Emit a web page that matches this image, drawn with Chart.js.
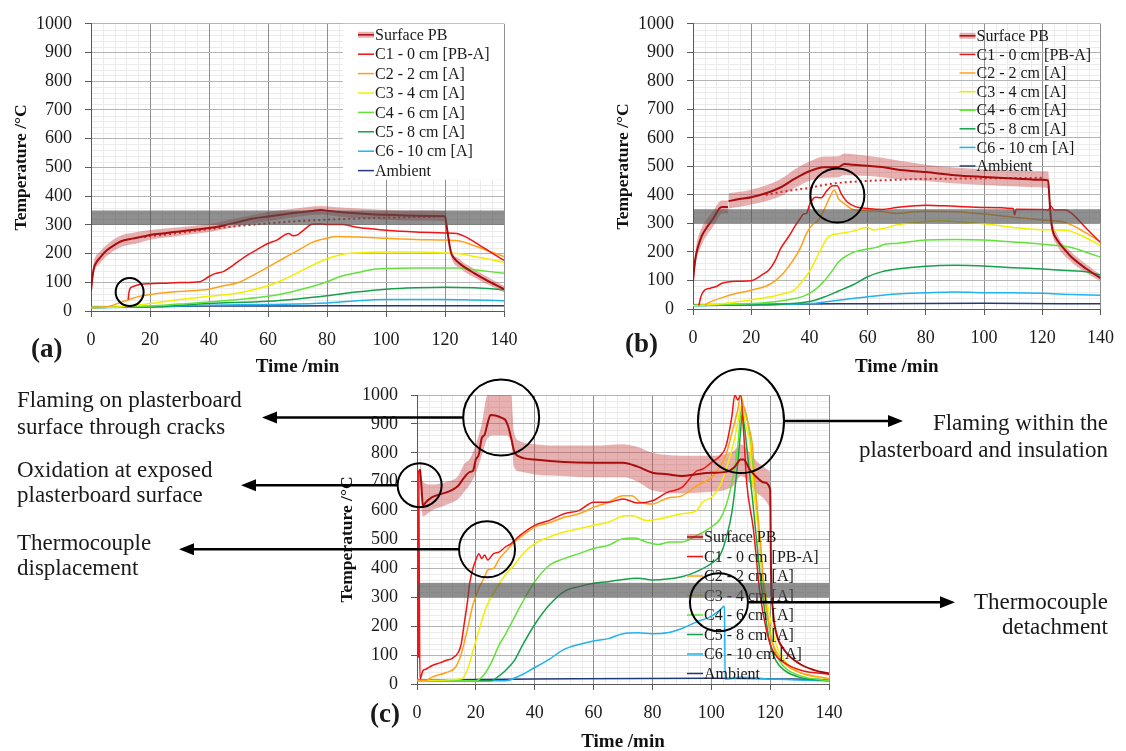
<!DOCTYPE html>
<html>
<head>
<meta charset="utf-8">
<script src="https://cdn.jsdelivr.net/npm/chart.js@4.4.1/dist/chart.umd.min.js"></script>
<style>
  body { margin: 0; background: #fff; width: 1126px; height: 751px; overflow: hidden; position: relative;
         font-family: "Liberation Serif", "Times New Roman", serif; color: #1a1a1a; }
  canvas { position: absolute; }
  .note { position: absolute; font-size: 23px; white-space: nowrap; }
  .tag { position: absolute; font-size: 27px; line-height: 30px; font-weight: bold; }
</style>
</head>
<body>
<canvas id="chartA" width="563" height="380" style="left:0;top:0"></canvas>
<canvas id="chartB" width="563" height="380" style="left:563px;top:0"></canvas>
<canvas id="chartC" width="1126" height="395" style="left:0;top:360px"></canvas>

<div class="tag" style="left:31px;top:333px">(a)</div>
<div class="tag" style="left:625px;top:328px">(b)</div>
<div class="tag" style="left:370px;top:698px">(c)</div>

<div class="note" style="left:17px;top:386px;line-height:27px">Flaming on plasterboard<br>surface through cracks</div>
<div class="note" style="left:17px;top:457px;line-height:25px">Oxidation at exposed<br>plasterboard surface</div>
<div class="note" style="left:17px;top:530px;line-height:25px">Thermocouple<br>displacement</div>
<div class="note" style="right:18px;top:409px;line-height:27px;text-align:right">Flaming within the<br>plasterboard and insulation</div>
<div class="note" style="right:18px;top:589px;line-height:25px;text-align:right">Thermocouple<br>detachment</div>

<script>
// ---- data: [time (min), temperature (°C)] ----
const seriesNames = ['Surface PB', 'C1 - 0 cm [PB-A]', 'C2 - 2 cm [A]', 'C3 - 4 cm [A]',
                     'C4 - 6 cm [A]', 'C5 - 8 cm [A]', 'C6 - 10 cm [A]', 'Ambient'];
const xTickLabels = [0, 20, 40, 60, 80, 100, 120, 140];
const yTickLabels = [0, 100, 200, 300, 400, 500, 600, 700, 800, 900, 1000];
const bandLow = 300, bandHigh = 350;

// (a)
const aSurf = [[0,70],[0.5,120],[1,150],[2,172],[3,185],[5,208],[8,230],[10,242],[14,252],[18,260],[20,265],[25,271],[30,277],[35,283],[40,289],[45,298],[50,310],[55,322],[60,329],[65,336],[70,343],[75,348],[78,352],[80,349],[85,344],[90,340],[95,337],[100,335],[110,332],[120,330],[120.5,300],[121,265],[122,205],[123,185],[125,165],[130,131],[135,102],[140,76]];
const aHi = [[0,85],[1,170],[3,205],[5,228],[10,262],[15,274],[20,282],[30,292],[40,303],[50,325],[60,345],[70,358],[78,366],[85,360],[100,352],[110,350],[120,348],[121,282],[122,220],[125,180],[130,145],[135,115],[140,88]];
const aLo = [[0,55],[1,130],[3,165],[5,188],[10,222],[15,234],[20,248],[30,262],[40,275],[50,295],[60,313],[70,328],[78,336],[85,328],[100,318],[110,315],[120,312],[121,250],[122,190],[125,150],[130,117],[135,90],[140,65]];
const aTrend = [[18,258],[30,272],[40,285],[50,296],[60,305],[70,313],[80,318],[90,322],[100,325],[110,327],[118,328]];
const aC1 = [[12.6,40],[12.8,60],[13.2,78],[14,84],[15,88],[17,93],[20,95],[25,97],[30,99],[37,102],[40,120],[42,130],[45,138],[48,158],[52,188],[56,212],[60,235],[63,247],[67,270],[68.5,262],[70,265],[72,281],[75,302],[78,303],[80,301],[85,301],[90,292],[95,286],[100,281],[110,275],[120,272],[124,270],[127,258],[130,240],[135,208],[140,176]];
const aC2 = [[0,12],[5,14],[8,22],[10,30],[13,40],[16,50],[20,57],[30,68],[40,76],[45,88],[50,99],[55,125],[60,153],[65,182],[70,210],[75,239],[80,253],[83,259],[90,258],[100,253],[110,249],[120,247],[125,244],[130,227],[135,208],[140,190]];
const aC3 = [[0,12],[10,15],[15,20],[20,26],[30,40],[40,51],[50,63],[55,74],[60,88],[65,108],[70,133],[75,159],[80,182],[85,197],[90,202],[100,205],[110,205],[120,202],[125,199],[130,190],[140,170]];
const aC4 = [[0,12],[20,17],[30,24],[40,31],[50,40],[60,51],[65,60],[70,72],[75,85],[80,102],[85,122],[90,133],[95,144],[100,148],[110,150],[120,150],[125,150],[130,144],[140,131]];
const aC5 = [[0,12],[20,15],[40,26],[60,34],[70,42],[80,53],[90,66],[100,76],[110,81],[120,83],[130,81],[140,74]];
const aC6 = [[0,11],[20,14],[40,20],[60,23],[80,28],[90,36],[100,40],[120,40],[130,38],[140,36]];
const aAmb = [[0,13],[20,15],[40,17],[60,17],[80,18],[100,18],[120,18],[140,18]];

// (b)
const bSurf = [[0,97],[0.5,150],[1,188],[2,227],[3,256],[5,290],[7,318],[9,352],[10,358],[12,358],[12.1,null],[12.2,378],[15,384],[20,392],[25,406],[30,426],[35,457],[40,483],[45,497],[50,498],[52,508],[55,506],[60,502],[65,498],[70,489],[80,480],[90,469],[100,463],[110,458],[120,453],[122,451],[122.5,380],[123,312],[123.5,278],[125,244],[128,205],[130,182],[135,142],[140,108]];
const bHi = [[0,115],[1,215],[3,285],[5,318],[7,345],[9,375],[10,380],[12,380],[12.1,null],[12.2,406],[20,418],[30,455],[35,490],[40,517],[45,535],[50,536],[52,545],[55,543],[60,537],[70,522],[80,506],[90,496],[100,489],[110,486],[120,483],[122,482],[123,340],[125,265],[130,200],[135,158],[140,120]];
const bLo = [[0,80],[1,160],[3,225],[5,262],[7,290],[9,325],[10,335],[12,335],[12.1,null],[12.2,352],[20,366],[30,395],[35,425],[40,450],[45,460],[50,462],[52,470],[55,468],[60,466],[70,456],[80,449],[90,440],[100,435],[110,430],[120,426],[122,422],[123,290],[125,225],[130,165],[135,128],[140,96]];
const bTrend = [[25,400],[30,410],[35,418],[40,425],[45,435],[50,442],[60,449],[70,453],[80,456],[90,457],[100,458],[110,459],[120,460]];
const bC1 = [[2,12],[2.5,35],[3,51],[4,66],[6,73],[8,79],[10,90],[15,97],[20,99],[22,108],[24,122],[26,136],[28,165],[30,210],[33,256],[35,290],[37,320],[38,333],[39,335],[40,364],[42,392],[44,390],[46,415],[48,432],[49.5,432],[51,403],[53,375],[56,358],[60,352],[65,349],[70,356],[80,364],[90,360],[100,356],[110,352],[110.5,330],[111,350],[120,349],[122,347],[123,360],[124,347],[128,347],[130,336],[135,284],[140,233]];
const bC2 = [[4,14],[6,25],[10,40],[15,55],[20,66],[25,80],[28,97],[31,125],[34,165],[37,216],[39,265],[41,295],[43,310],[45,347],[47,392],[48.5,417],[50,386],[52,369],[55,349],[60,345],[65,342],[70,335],[75,340],[80,343],[90,341],[100,333],[110,322],[120,312],[128,303],[135,267],[140,235]];
const bC3 = [[0,12],[10,18],[20,32],[25,40],[30,51],[35,68],[37,91],[40,131],[42,170],[44,210],[46,247],[48,261],[50,264],[55,273],[60,287],[62,277],[65,281],[70,295],[80,307],[85,309],[90,307],[100,299],[110,286],[120,278],[128,276],[135,250],[140,222]];
const bC4 = [[0,12],[20,19],[30,28],[38,45],[42,68],[45,97],[48,136],[50,165],[53,188],[56,202],[60,210],[63,216],[66,227],[70,230],[80,242],[90,244],[100,242],[110,235],[120,227],[130,216],[135,199],[140,182]];
const bC5 = [[0,12],[30,17],[40,26],[45,42],[50,63],[55,85],[60,113],[65,131],[70,140],[80,150],[90,153],[100,151],[110,145],[120,140],[130,134],[135,131],[140,119]];
const bC6 = [[0,12],[40,19],[50,31],[60,43],[70,53],[80,57],[90,60],[100,57],[110,57],[120,55],[130,51],[140,48]];
const bAmb = [[0,15],[50,18],[100,20],[140,18]];

// (c)
const cSurf = [[1,743],[1.5,686],[2,617],[3,629],[5,646],[8,657],[10,663],[12,672],[14,686],[16,714],[18,734],[19,737],[20,777],[21,794],[22,851],[23,863],[24,903],[25,931],[27,928],[29,920],[30,914],[31,891],[32,851],[33,806],[35,786],[40,777],[50,768],[60,766],[70,766],[75,752],[80,731],[85,726],[90,720],[95,726],[100,731],[105,734],[108,752],[110,777],[111,777],[113,743],[115,720],[118,697],[120,674],[120.3,400],[121,250],[122,180],[125,115],[130,70],[135,48],[140,36]];
const cHi = [[1,790],[2,700],[5,690],[10,700],[14,720],[16,760],[18,780],[20,830],[22,900],[24,1000],[26,1000],[30,1000],[32,1000],[33,870],[35,840],[40,830],[50,825],[60,825],[70,830],[75,820],[80,800],[90,790],[100,790],[105,795],[108,810],[110,830],[112,815],[115,775],[118,750],[120,735]];
const cLo = [[1,690],[2,580],[5,600],[10,620],[14,640],[16,665],[18,690],[20,730],[22,790],[24,850],[26,860],[30,860],[32,840],[33,750],[35,735],[40,725],[50,720],[60,715],[70,715],[75,700],[80,670],[90,660],[100,665],[105,672],[108,690],[110,720],[112,710],[115,665],[118,640],[120,610]];
const cC1 = [[0.5,91],[0.6,740],[0.8,300],[1,17],[2,46],[3,51],[5,63],[8,74],[10,82],[12,89],[14,109],[15,137],[16,206],[17,274],[18,354],[19,400],[20,429],[21,451],[22,434],[23,446],[24,429],[26,451],[28,457],[30,474],[32,486],[35,514],[40,549],[45,566],[50,589],[55,600],[60,629],[65,629],[70,640],[75,626],[80,634],[85,663],[90,680],[95,737],[97,743],[100,766],[103,789],[105,823],[107,926],[108,1000],[109,983],[110,1000],[111,870],[112,700],[114.3,537],[116.6,309],[118.8,183],[121,114],[125.6,69],[131,46],[140,34]];
const cC2 = [[0,12],[3,11],[5,23],[10,40],[13,57],[15,103],[17,183],[19,274],[21,331],[23,371],[24,394],[26,400],[28,434],[30,457],[33,491],[36,514],[40,543],[45,558],[50,577],[55,589],[60,611],[65,629],[70,651],[73,651],[76,629],[80,623],[85,643],[90,651],[95,686],[100,714],[103,754],[105,794],[107,869],[109,949],[110,1000],[111,960],[113,880],[114,823],[115,674],[117,457],[118,320],[119,251],[120,171],[122,114],[125,69],[130,40],[140,19]];
const cC3 = [[0,12],[15,17],[17,46],[19,114],[21,183],[23,251],[25,297],[27,331],[30,377],[33,411],[36,451],[40,486],[45,509],[50,526],[55,537],[60,549],[65,560],[70,581],[73,583],[78,566],[82,571],[90,589],[95,600],[97,629],[100,646],[103,686],[105,743],[107,811],[109,903],[110,960],[111,937],[112,880],[113,846],[114,709],[115,617],[116,526],[117,411],[118,343],[120,229],[122,137],[125,80],[130,40],[140,17]];
const cC4 = [[0,12],[20,11],[22,23],[25,69],[28,137],[30,171],[33,229],[36,286],[40,354],[45,411],[50,434],[55,451],[60,469],[65,480],[70,503],[74,505],[78,491],[82,483],[86,491],[90,491],[95,514],[100,543],[103,571],[105,617],[107,697],[109,823],[110,937],[111,960],[112,926],[113,869],[114,766],[115,674],[116,537],[117,411],[118,309],[120,183],[122,103],[125,57],[130,29],[140,11]];
const cC5 = [[0,12],[25,11],[28,29],[30,46],[33,80],[36,137],[40,206],[45,274],[50,320],[55,337],[60,349],[65,354],[70,362],[75,366],[80,360],[85,363],[90,371],[95,389],[100,417],[103,446],[105,503],[107,594],[109,766],[110,880],[110.5,937],[111,914],[112,823],[113,731],[114,640],[115,537],[117,343],[120,137],[122,80],[125,46],[130,23],[140,11]];
const cC6 = [[0,12],[30,11],[35,29],[40,57],[45,86],[50,120],[55,137],[60,149],[65,157],[70,174],[75,177],[80,174],[85,177],[90,192],[95,215],[100,234],[103,257],[104.5,269],[104.7,17],[110,23],[120,17],[140,11]];
const cAmb = [[0,14],[40,17],[100,20],[140,15]];

// ---- styling ----
const SERIF = '"Liberation Serif", "Times New Roman", serif';
const colors = ['#a80d0d', '#f01414', '#ffa21a', '#f2ee00', '#62e23a', '#17a04c', '#1fb2ee', '#22387a'];
const pink = 'rgba(200,70,70,0.42)';

const pts = arr => arr.map(p => ({ x: p[0], y: p[1] }));

function line(label, arr, color, extra) {
  return Object.assign({
    label: label, data: pts(arr), borderColor: color, borderWidth: 1.5,
    pointRadius: 0, fill: false, inLegend: true, cubicInterpolationMode: 'monotone'
  }, extra || {});
}

function buildSets(s) {
  const sets = [line(seriesNames[0], s.surf, colors[0], { borderWidth: 2 })];
  if (s.trend) sets.push(line('trend', s.trend, '#d42a2a', { borderDash: [2, 3], borderWidth: 2, inLegend: false }));
  s.probes.forEach((arr, i) => sets.push(line(seriesNames[i + 1], arr, colors[i + 1])));
  sets.push(line('hi', s.hi, 'rgba(0,0,0,0)', { borderWidth: 0, inLegend: false }));
  sets.push(line('lo', s.lo, 'rgba(0,0,0,0)', { borderWidth: 0, inLegend: false, fill: '-1', backgroundColor: pink }));
  return sets;
}

function axes(g) {
  return {
    x: {
      type: 'linear', min: 0, max: 140,
      afterFit: sc => { sc.height = g.xH; },
      afterBuildTicks: sc => { sc.ticks = xTickLabels.map(v => ({ value: v })); },
      ticks: { autoSkip: false, maxRotation: 0, padding: 12, color: '#1a1a1a',
               font: { family: SERIF, size: 18 }, callback: v => String(v) },
      grid: { color: '#8f8f8f', tickLength: 6, tickColor: '#595959' },
      border: { color: '#595959' },
      title: { display: true, text: 'Time /min', color: '#111',
               font: { family: SERIF, size: 19, weight: 'bold' }, padding: { top: 0, bottom: g.xTP } }
    },
    y: {
      type: 'linear', min: 0, max: 1000,
      afterFit: sc => { sc.width = g.yW; },
      afterBuildTicks: sc => { sc.ticks = yTickLabels.map(v => ({ value: v })); },
      ticks: { autoSkip: false, padding: 13, color: '#1a1a1a',
               font: { family: SERIF, size: 18 }, callback: v => String(v) },
      grid: { color: '#b4b4b4', tickLength: 6, tickColor: '#595959' },
      border: { color: '#595959' },
      title: { display: true, text: 'Temperature /°C', color: '#111',
               font: { family: SERIF, size: 17.5, weight: 'bold' }, padding: { top: g.yTP, bottom: 0 } }
    }
  };
}

function extras(g) {
  return {
    id: 'extras',
    beforeDraw(chart) {
      const { ctx, chartArea: a, scales: { x, y } } = chart;
      ctx.save();
      ctx.strokeStyle = '#ebebeb';
      ctx.lineWidth = 1;
      ctx.beginPath();
      for (let t = 4; t < 140; t += 4) {
        if (t % 20 === 0) continue;
        const px = Math.round(x.getPixelForValue(t)) + 0.5;
        ctx.moveTo(px, a.top); ctx.lineTo(px, a.bottom);
      }
      for (let v = 20; v < 1000; v += 20) {
        if (v % 100 === 0) continue;
        const py = Math.round(y.getPixelForValue(v)) + 0.5;
        ctx.moveTo(a.left, py); ctx.lineTo(a.right, py);
      }
      ctx.stroke();
      ctx.restore();
    },
    afterDatasetsDraw(chart) {
      const { ctx, chartArea: a, scales: { x, y } } = chart;
      const L = g.legend;
      ctx.save();
      // legend
      if (L.box) {
        ctx.fillStyle = '#fff';
        ctx.fillRect(a.right + L.box.x, a.top, L.box.w, L.box.h);
      }
      ctx.font = '16px ' + SERIF;
      ctx.textBaseline = 'middle';
      let row = 0;
      chart.data.datasets.forEach(ds => {
        if (!ds.inLegend) return;
        const yy = a.top + L.y + row * L.row;
        const x0 = a.right + L.x;
        if (row === 0) {
          ctx.strokeStyle = pink; ctx.lineWidth = 6;
          ctx.beginPath(); ctx.moveTo(x0, yy); ctx.lineTo(x0 + 16, yy); ctx.stroke();
        }
        ctx.strokeStyle = ds.borderColor; ctx.lineWidth = 1.5;
        ctx.beginPath(); ctx.moveTo(x0, yy); ctx.lineTo(x0 + 16, yy); ctx.stroke();
        ctx.fillStyle = '#1a1a1a';
        ctx.fillText(ds.label, x0 + 17, yy + 1);
        row++;
      });
      // grey band 300-350 °C
      const yTop = y.getPixelForValue(bandHigh), yBot = y.getPixelForValue(bandLow);
      ctx.fillStyle = 'rgba(80,80,80,0.64)';
      ctx.fillRect(a.left, yTop, a.right - a.left, yBot - yTop);
      // circled events and arrows
      ctx.strokeStyle = '#000';
      ctx.fillStyle = '#000';
      g.marks.forEach(m => {
        const cx = x.getPixelForValue(m.t), cy = y.getPixelForValue(m.v);
        ctx.lineWidth = 2;
        ctx.beginPath();
        ctx.ellipse(cx, cy, m.rx, m.ry, 0, 0, Math.PI * 2);
        ctx.stroke();
        if (m.tip !== undefined) {
          const dir = m.tip < cx ? -1 : 1;
          const start = cx + dir * m.rx;
          const end = m.tip - dir * 15;
          ctx.lineWidth = 2.5;
          ctx.beginPath(); ctx.moveTo(start, cy); ctx.lineTo(end, cy); ctx.stroke();
          ctx.beginPath();
          ctx.moveTo(m.tip, cy); ctx.lineTo(end, cy - 6); ctx.lineTo(end, cy + 6); ctx.closePath();
          ctx.fill();
        }
      });
      ctx.restore();
    }
  };
}

function makeChart(id, s, g) {
  return new Chart(document.getElementById(id), {
    type: 'line',
    data: { datasets: buildSets(s) },
    options: {
      responsive: false, animation: false, devicePixelRatio: 1,
      layout: { padding: g.pad },
      plugins: { legend: { display: false }, tooltip: { enabled: false } },
      scales: axes(g)
    },
    plugins: [extras(g)]
  });
}

makeChart('chartA',
  { surf: aSurf, hi: aHi, lo: aLo, trend: aTrend, probes: [aC1, aC2, aC3, aC4, aC5, aC6, aAmb] },
  { pad: { left: 0, top: 19, right: 59, bottom: 0 }, yW: 91, xH: 69, yTP: 10.5, xTP: 2,
    legend: { x: -146, y: 11, row: 19.4, box: { x: -161, w: 161, h: 156 } },
    marks: [{ t: 13.1, v: 66, rx: 14, ry: 14 }] });

makeChart('chartB',
  { surf: bSurf, hi: bHi, lo: bLo, trend: bTrend, probes: [bC1, bC2, bC3, bC4, bC5, bC6, bAmb] },
  { pad: { left: 40, top: 18, right: 19, bottom: 0 }, yW: 90, xH: 71, yTP: 10, xTP: 2,
    legend: { x: -141, y: 12, row: 18.6 },
    marks: [{ t: 49.6, v: 398, rx: 27, ry: 27 }] });

makeChart('chartC',
  { surf: cSurf, hi: cHi, lo: cLo, probes: [cC1, cC2, cC3, cC4, cC5, cC6, cAmb] },
  { pad: { left: 327, top: 35, right: 297, bottom: 0 }, yW: 90, xH: 71, yTP: 9.5, xTP: 1.6,
    legend: { x: -142, y: 142, row: 19.5 },
    marks: [
      { t: 0.9, v: 688, rx: 22, ry: 22, tip: 241 },
      { t: 28.6, v: 922, rx: 38, ry: 38, tip: 262 },
      { t: 23.8, v: 466, rx: 28, ry: 28, tip: 179 },
      { t: 110.1, v: 910, rx: 43, ry: 52, tip: 903 },
      { t: 102.6, v: 283, rx: 29, ry: 29, tip: 955 }
    ] });
</script>
</body>
</html>
